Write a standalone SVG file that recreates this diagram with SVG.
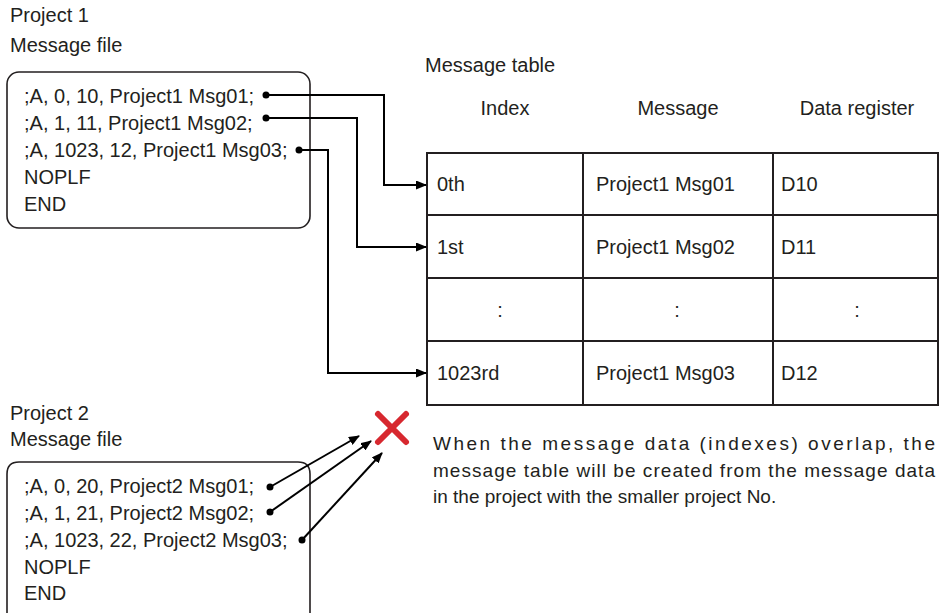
<svg xmlns="http://www.w3.org/2000/svg" width="940" height="613" viewBox="0 0 940 613">
<style>
text{font-family:"Liberation Sans",Arial,sans-serif;font-size:20px;fill:#231f20}
.note{font-size:19px}
.box{fill:none;stroke:#231f20;stroke-width:1.6}
.cell{fill:none;stroke:#231f20;stroke-width:2}
.conn{fill:none;stroke:#000;stroke-width:2}
.mid{text-anchor:middle}
</style>
<defs>
<marker id="ah" markerWidth="11" markerHeight="9" refX="10" refY="4.5" orient="auto" markerUnits="userSpaceOnUse">
<path d="M0,0 L11,4.5 L0,9 z" fill="#000"/>
</marker>
</defs>
<rect width="940" height="613" fill="#fff"/>
<g id="project1">
<text x="10" y="22">Project 1</text>
<text x="10" y="52">Message file</text>
<rect class="box" x="7" y="72" width="303" height="156" rx="12"/>
<text x="24" y="103">;A, 0, 10, Project1 Msg01;</text>
<text x="24" y="130">;A, 1, 11, Project1 Msg02;</text>
<text x="24" y="157">;A, 1023, 12, Project1 Msg03;</text>
<text x="24" y="184">NOPLF</text>
<text x="24" y="211">END</text>
</g>
<g id="table">
<text x="425" y="72">Message table</text>
<text class="mid" x="505" y="115">Index</text>
<text class="mid" x="678" y="115">Message</text>
<text class="mid" x="857" y="115">Data register</text>
<rect class="cell" x="427" y="153" width="511" height="252"/>
<line class="cell" x1="427" y1="215" x2="938" y2="215"/>
<line class="cell" x1="427" y1="278" x2="938" y2="278"/>
<line class="cell" x1="427" y1="341" x2="938" y2="341"/>
<line class="cell" x1="583" y1="153" x2="583" y2="405"/>
<line class="cell" x1="773" y1="153" x2="773" y2="405"/>
<text x="437" y="191">0th</text>
<text x="596" y="191">Project1 Msg01</text>
<text x="781" y="191">D10</text>
<text x="437" y="254">1st</text>
<text x="596" y="254">Project1 Msg02</text>
<text x="781" y="254">D11</text>
<text class="mid" x="500" y="317">:</text>
<text class="mid" x="677" y="317">:</text>
<text class="mid" x="857" y="317">:</text>
<text x="437" y="380">1023rd</text>
<text x="596" y="380">Project1 Msg03</text>
<text x="781" y="380">D12</text>
</g>
<g id="project2">
<text x="10" y="420">Project 2</text>
<text x="10" y="446">Message file</text>
<path class="box" d="M7,625 V474 Q7,462 19,462 H298 Q310,462 310,474 V625"/>
<text x="24" y="493">;A, 0, 20, Project2 Msg01;</text>
<text x="24" y="520">;A, 1, 21, Project2 Msg02;</text>
<text x="24" y="547">;A, 1023, 22, Project2 Msg03;</text>
<text x="24" y="574">NOPLF</text>
<text x="24" y="600">END</text>
</g>
<g id="cross">
<path d="M378,414 L406,442 M406,414 L378,442" stroke="#d7282f" stroke-width="6" stroke-linecap="round" fill="none"/>
</g>
<g id="note">
<text class="note" x="433" y="450" textLength="502" lengthAdjust="spacing">When the message data (indexes) overlap, the</text>
<text class="note" x="433" y="477" textLength="502" lengthAdjust="spacing">message table will be created from the message data</text>
<text class="note" x="433" y="503">in the project with the smaller project No.</text>
</g>
<g id="connectors">
<circle cx="266" cy="95" r="3.5" fill="#000"/>
<circle cx="266" cy="118" r="3.5" fill="#000"/>
<circle cx="299" cy="150" r="3.5" fill="#000"/>
<polyline class="conn" points="266,95 384,95 384,185 426,185" marker-end="url(#ah)"/>
<polyline class="conn" points="266,118 357,118 357,247 426,247" marker-end="url(#ah)"/>
<polyline class="conn" points="299,150 328,150 328,373 426,373" marker-end="url(#ah)"/>
<circle cx="270" cy="487" r="3.5" fill="#000"/>
<circle cx="270" cy="512" r="3.5" fill="#000"/>
<circle cx="302" cy="540" r="3.5" fill="#000"/>
<line class="conn" x1="270" y1="487" x2="359" y2="436" marker-end="url(#ah)"/>
<line class="conn" x1="270" y1="512" x2="371" y2="441" marker-end="url(#ah)"/>
<line class="conn" x1="302" y1="540" x2="382" y2="453" marker-end="url(#ah)"/>
</g>
</svg>
